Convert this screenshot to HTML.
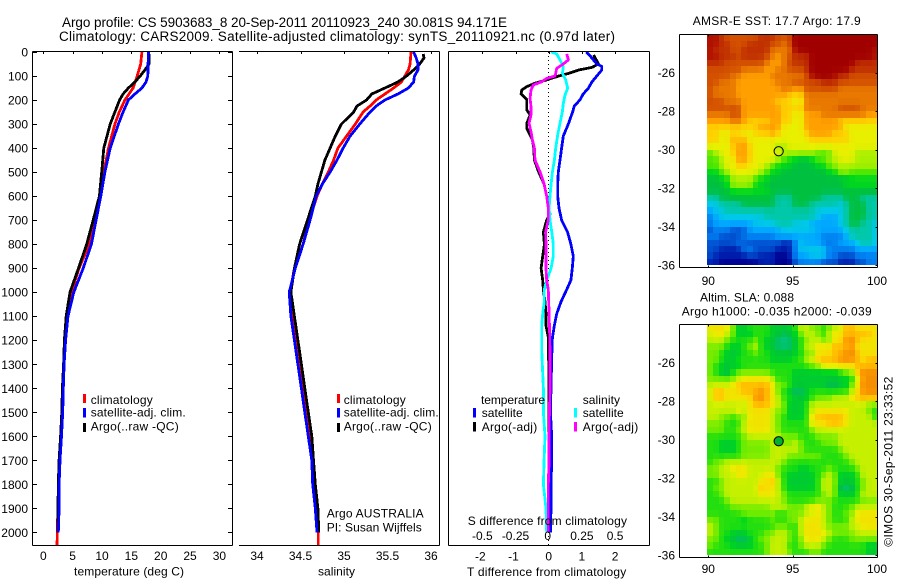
<!DOCTYPE html>
<html lang="en">
<head>
<meta charset="utf-8">
<title>Argo profile 5903683</title>
<style>
html,body{margin:0;padding:0;background:#fff;}
svg{display:block;}
text{font-family:"Liberation Sans",Arial,sans-serif;font-size:12px;fill:#000;}
.title{font-size:13.5px;}
.leg{font-size:12px;}
</style>
</head>
<body>
<svg id="chart" xmlns="http://www.w3.org/2000/svg" width="900" height="580" viewBox="0 0 900 580">
<rect x="0" y="0" width="900" height="580" fill="#fff"/>
<g id="marks"></g>
<g>
<text class="title" x="62" y="27" textLength="445" lengthAdjust="spacing">Argo profile: CS 5903683_8 20-Sep-2011 20110923_240 30.081S 94.171E</text>
<text class="title" x="59" y="41" textLength="556" lengthAdjust="spacing">Climatology: CARS2009. Satellite-adjusted climatology: synTS_20110921.nc (0.97d later)</text>
<text x="692.7" y="25" textLength="168" lengthAdjust="spacing">AMSR-E SST: 17.7  Argo: 17.9</text>
<text x="700" y="301.7" textLength="94" lengthAdjust="spacing">Altim. SLA: 0.088</text>
<text x="681.7" y="315.7" textLength="190" lengthAdjust="spacing">Argo h1000: -0.035 h2000: -0.039</text>
<text transform="translate(892.7,546.7) rotate(-90)" textLength="170" lengthAdjust="spacing">©IMOS 30-Sep-2011 23:33:52</text>
</g>
<g>
<text x="74" y="575.7" textLength="110" lengthAdjust="spacing">temperature (deg C)</text>
<text x="318" y="575.7" textLength="37" lengthAdjust="spacing">salinity</text>
<text x="467" y="576" textLength="159.3" lengthAdjust="spacing">T difference from climatology</text>
<text x="467.7" y="525" textLength="159.3" lengthAdjust="spacing">S difference from climatology</text>
</g>
<g>
<rect x="83" y="394" width="3" height="9" fill="#f00"/>
<rect x="83" y="408" width="3" height="9.5" fill="#00f"/>
<rect x="83" y="423" width="3" height="9" fill="#000"/>
<text class="leg" x="90.7" y="404" textLength="62" lengthAdjust="spacing">climatology</text>
<text class="leg" x="90.7" y="416.7" textLength="95" lengthAdjust="spacing">satellite-adj. clim.</text>
<text class="leg" x="90.7" y="430.7" textLength="88" lengthAdjust="spacing">Argo(..raw -QC)</text>
</g>
<g>
<rect x="337" y="394" width="3" height="9" fill="#f00"/>
<rect x="337" y="408" width="3" height="9.5" fill="#00f"/>
<rect x="337" y="423" width="3" height="9" fill="#000"/>
<text class="leg" x="343.7" y="404" textLength="62" lengthAdjust="spacing">climatology</text>
<text class="leg" x="343.7" y="416.7" textLength="95" lengthAdjust="spacing">satellite-adj. clim.</text>
<text class="leg" x="343.7" y="430.7" textLength="88" lengthAdjust="spacing">Argo(..raw -QC)</text>
<text class="leg" x="326.7" y="517.7" textLength="97" lengthAdjust="spacing">Argo AUSTRALIA</text>
<text class="leg" x="326.7" y="531.7" textLength="95" lengthAdjust="spacing">PI: Susan Wijffels</text>
</g>
<g>
<text class="leg" x="481" y="404" textLength="64" lengthAdjust="spacing">temperature</text>
<text class="leg" x="582.7" y="404" textLength="37.3" lengthAdjust="spacing">salinity</text>
<rect x="473" y="408" width="3" height="9.5" fill="#00f"/>
<rect x="473" y="422" width="3" height="9.5" fill="#000"/>
<rect x="574" y="408" width="3" height="9.5" fill="#0ff"/>
<rect x="574" y="422" width="3" height="9.5" fill="#f0f"/>
<text class="leg" x="481.7" y="417" textLength="41" lengthAdjust="spacing">satellite</text>
<text class="leg" x="481.7" y="431" textLength="55.5" lengthAdjust="spacing">Argo(-adj)</text>
<text class="leg" x="582.7" y="417" textLength="41" lengthAdjust="spacing">satellite</text>
<text class="leg" x="582.7" y="431" textLength="55.5" lengthAdjust="spacing">Argo(-adj)</text>
</g>
</svg>
<script>
/* ---------- axis tick labels ---------- */
var depthTicks = [0,100,200,300,400,500,600,700,800,900,1000,1100,1200,1300,1400,1500,1600,1700,1800,1900,2000];
var tempTicks = [0,5,10,15,20,25,30];
var salTicks = [34,34.5,35,35.5,36];
var salTickLabels = ['34','34.5','35','35.5','36'];
var tDiffTicks = [-2,-1,0,1,2];
var sDiffTicks = [-0.5,-0.25,0,0.25,0.5];
var sDiffTickLabels = ['-0.5','-0.25','0','0.25','0.5'];
var lonTicks = [90,95,100];
var latTicks = [-26,-28,-30,-32,-34,-36];
var profileLon = 94.171;
var profileLat = -30.081;

/* ---------- temperature panel (deg C) ---------- */
var tempClimDepth = [0,50,100,150,200,250,300,400,500,600,700,800,900,1000,1100,1200,1300,1400,1500,1600,1700,1800,1900,1950,2053];
var tempClim = [16.8,16.6,16.0,15.3,13.9,12.95,12.2,11.1,10.3,9.66,8.8,7.8,6.1,4.8,4.0,3.7,3.5,3.4,3.3,3.1,2.85,2.7,2.65,2.4,2.35];
var tempSatDepth = [0,100,125,150,175,200,250,300,400,500,600,700,800,900,1000,1100,1200,1300,1400,1500,1600,1700,1800,1900,2000];
var tempSat = [17.9,17.8,17.5,16.8,15.6,14.5,13.6,12.8,11.4,10.5,9.8,9.0,8.2,6.8,5.2,4.2,3.8,3.55,3.4,3.3,3.1,2.85,2.7,2.7,2.55];
var tempArgoDepth = [8,50,75,100,125,150,175,200,250,300,400,500,600,700,800,900,1000,1100,1200,1300,1400,1500,1600,1700,1800,1900,2000];
var tempArgo = [18.06,18.0,17.3,16.5,15.6,14.5,13.6,13.0,12.2,11.4,10.3,9.95,9.55,8.5,7.4,6.0,4.55,3.9,3.6,3.45,3.25,3.15,2.95,2.7,2.55,2.5,2.45];

/* ---------- salinity panel ---------- */
var salClimDepth = [0,50,75,100,125,150,175,200,225,250,300,350,400,450,500,550,600,700,800,900,1000,1100,1200,1300,1400,1500,1600,1700,1800,1900,2053];
var salClim = [35.77,35.76,35.74,35.7,35.66,35.57,35.47,35.37,35.3,35.22,35.13,35.03,34.93,34.88,34.82,34.75,34.69,34.6,34.53,34.43,34.38,34.41,34.45,34.49,34.53,34.57,34.61,34.64,34.66,34.7,34.705];
var salSatDepth = [0,25,50,75,100,125,150,175,200,225,250,300,350,400,450,500,550,600,700,800,900,1000,1100,1200,1300,1400,1500,1600,1700,1800,1900,2000];
var salSat = [35.8,35.83,35.85,35.85,35.81,35.8,35.74,35.62,35.47,35.37,35.3,35.18,35.07,34.99,34.92,34.84,34.75,34.68,34.61,34.53,34.44,34.37,34.39,34.43,34.47,34.51,34.55,34.59,34.63,34.64,34.67,34.69];
var salArgoDepth = [8,25,50,75,100,125,150,175,200,225,250,300,350,400,450,500,550,600,700,800,900,1000,1100,1200,1300,1400,1500,1600,1700,1800,1900,2000];
var salArgo = [35.91,35.92,35.87,35.8,35.72,35.62,35.47,35.32,35.26,35.15,35.11,34.97,34.9,34.84,34.78,34.74,34.7,34.67,34.58,34.49,34.43,34.39,34.43,34.47,34.51,34.55,34.59,34.63,34.65,34.67,34.7,34.71];

/* ---------- difference panel ---------- */
var dTSatDepth = [0,25,50,60,75,100,125,150,175,200,225,250,300,350,400,450,500,550,600,650,700,750,800,850,900,950,990,1040,1090,1140,1190,1270,1400,1500,1600,1700,1800,1900,2000];
var dTSat = [1.14,1.3,1.45,1.6,1.6,1.45,1.3,1.2,1.04,0.94,0.77,0.72,0.59,0.44,0.39,0.34,0.29,0.27,0.27,0.31,0.39,0.57,0.67,0.74,0.71,0.67,0.54,0.37,0.24,0.17,0.11,0.09,0.07,0.05,0.09,0.09,0.07,0.07,0.05];
var dTArgoDepth = [12,25,50,64,75,89,100,116,130,144,158,175,197,241,262,297,318,366,400,450,500,550,600,650,675,700,750,800,850,900,950,990,1040,1090,1140,1190,1300,1500,1800,2000];
var dTArgo = [1.35,1.4,1.5,1.3,0.9,0.6,0.3,-0.06,-0.41,-0.66,-0.81,-0.83,-0.66,-0.66,-0.56,-0.66,-0.66,-0.49,-0.45,-0.43,-0.3,-0.14,-0.06,-0.01,0.04,-0.06,-0.16,-0.13,-0.18,-0.23,-0.18,-0.16,-0.11,-0.08,-0.08,-0.01,0.0,0.0,0.0,0.0];
var dSSatDepth = [0,8,33,61,89,116,151,179,214,248,297,345,400,450,500,550,600,650,700,750,800,850,900,950,990,1040,1090,1140,1240,1300,1400,1500,1600,1700,1800,1900,2000];
var dSSat = [0.018,0.06,0.085,0.11,0.103,0.128,0.143,0.123,0.11,0.103,0.085,0.068,0.053,0.043,0.028,0.018,0.01,0.003,0.01,0.023,0.035,0.035,0.018,-0.015,-0.033,-0.033,-0.045,-0.053,-0.053,-0.048,-0.04,-0.04,-0.028,-0.035,-0.04,-0.02,-0.015];
var dSArgoDepth = [8,33,50,68,89,100,110,124,137,158,193,228,262,297,332,366,400,450,500,550,600,650,700,750,800,850,900,950,990,1090,1190,1300,1400,1500,1600,1700,1800,1900,2000];
var dSArgo = [0.136,0.148,0.11,0.06,0.053,0.048,-0.015,-0.053,-0.115,-0.133,-0.14,-0.133,-0.133,-0.148,-0.133,-0.123,-0.108,-0.103,-0.065,-0.035,-0.015,-0.003,-0.003,-0.023,-0.02,-0.02,-0.02,-0.015,-0.003,0.003,0.008,0.01,0.01,0.005,0.003,0.003,-0.003,-0.003,-0.003];

/* ---------- SST map levels, north to south, 1/3 degree cells ---------- */
var sstLevels = [
[17,17,16,15,15,15,15,15,15,16,16,16,15,15,15,18,18,18,18,18,18,18,18,18,18,18,18,18,18,18],
[17,17,16,16,15,15,15,16,16,16,16,15,15,14,15,18,18,18,18,18,18,18,18,18,18,18,18,18,18,18],
[17,16,16,16,15,15,16,16,16,16,16,14,14,14,14,17,18,18,18,18,18,18,18,18,18,18,18,18,18,17],
[17,17,16,16,16,15,16,16,16,16,15,14,13,14,15,16,16,16,18,18,18,18,18,18,18,18,18,18,18,17],
[16,16,16,15,15,15,15,15,15,15,14,13,13,14,15,16,16,16,18,18,18,18,18,18,18,18,16,16,16,16],
[15,15,15,15,15,15,14,14,14,14,13,13,14,14,15,15,15,16,18,18,18,18,18,18,18,16,16,16,16,16],
[15,15,15,15,14,14,13,13,13,13,13,14,14,14,14,14,14,15,17,18,18,18,17,16,16,15,15,15,15,15],
[15,15,14,14,14,13,13,13,13,13,13,13,14,14,14,15,15,15,15,15,16,16,16,15,15,15,15,15,15,15],
[15,14,14,14,14,13,13,13,13,13,13,13,13,14,14,13,13,15,15,15,15,15,15,14,14,14,14,14,14,14],
[15,14,14,14,14,13,13,13,13,13,13,13,13,13,12,12,12,14,14,14,14,14,14,14,14,14,14,14,14,14],
[15,15,15,14,14,14,13,13,13,13,13,13,12,12,12,11,11,14,14,14,14,14,14,14,14,14,14,14,14,14],
[15,15,15,15,15,15,13,13,13,13,13,13,13,12,12,12,12,14,14,14,14,14,14,15,15,15,15,14,14,14],
[14,14,14,14,15,15,13,13,13,13,13,13,13,12,12,11,11,13,13,13,14,14,14,14,14,14,14,14,13,13],
[13,13,13,13,14,14,13,12,12,12,12,13,13,12,12,11,11,13,13,13,13,13,13,12,12,12,12,12,12,12],
[12,12,12,12,12,12,12,12,12,13,13,13,13,11,11,11,11,13,13,13,13,13,13,13,11,11,11,11,11,11],
[12,12,11,11,12,12,11,11,12,12,12,13,12,11,11,11,11,12,13,13,13,13,12,12,12,11,11,11,11,11],
[12,12,11,11,13,12,13,11,11,11,11,11,11,11,11,11,11,11,12,12,12,12,12,12,12,11,11,11,11,11],
[11,11,11,11,12,13,13,12,11,11,11,11,10,10,11,11,11,11,11,11,11,11,11,11,11,11,11,11,11,11],
[9,10,11,11,12,13,13,12,11,11,11,11,11,10,10,10,10,10,10,9,9,9,11,11,11,11,10,10,10,10],
[9,9,10,11,11,13,13,12,11,11,11,11,10,9,8,8,7,7,8,9,9,10,10,11,11,11,10,10,10,10],
[9,9,10,11,11,12,12,11,11,11,10,9,8,8,8,7,7,7,7,8,8,9,10,10,10,10,10,10,10,10],
[8,8,9,10,11,11,11,11,11,10,9,8,8,7,7,7,7,7,7,7,7,8,8,10,10,9,9,9,9,9],
[7,7,8,8,10,10,10,10,9,8,8,7,7,7,7,7,7,7,7,7,7,7,7,7,7,8,8,8,8,8],
[7,7,7,8,10,10,10,10,8,8,7,7,7,7,7,7,7,7,7,7,7,7,7,7,8,8,8,8,8,8],
[7,7,7,7,8,8,8,8,8,8,8,7,7,7,7,7,7,7,7,7,7,7,7,7,7,7,7,7,7,7],
[6,6,7,7,7,7,7,7,7,7,7,7,6,6,6,7,7,7,7,7,6,6,6,6,7,7,7,6,6,6],
[5,5,6,6,6,6,7,7,7,7,7,7,6,6,6,7,7,7,6,6,6,6,6,5,6,7,7,7,6,6],
[4,5,5,6,6,6,6,6,6,6,6,6,6,6,6,6,6,6,6,5,5,5,5,5,6,7,7,7,6,6],
[3,4,5,5,5,5,5,5,5,5,6,6,6,6,6,6,6,6,6,5,4,4,4,5,6,7,7,7,6,6],
[3,4,4,4,4,4,4,4,5,5,5,5,6,6,6,5,5,5,4,4,4,4,4,5,6,7,7,6,6,5],
[2,3,3,3,2,2,2,4,4,4,4,4,4,5,5,5,5,5,5,4,4,4,4,4,5,6,6,6,6,5],
[3,3,2,2,2,2,3,3,3,3,3,3,4,4,4,4,4,4,4,4,3,3,3,3,4,6,6,6,6,5],
[2,2,2,2,2,3,2,2,2,2,2,2,2,1,1,3,5,4,4,4,3,3,3,4,4,4,5,6,6,5],
[2,2,1,1,1,1,3,3,2,2,2,2,1,1,1,3,5,5,5,5,5,3,3,3,3,3,4,4,4,4],
[2,1,1,1,1,1,1,2,2,1,1,1,0,0,1,3,4,4,5,5,5,3,3,2,2,2,3,3,3,3],
[1,1,0,0,0,0,0,0,0,1,1,1,0,0,0,2,3,3,3,3,2,2,2,1,1,1,2,2,3,3]
];

/* ---------- SLA map levels, north to south, 1/3 degree cells ---------- */
var slaLevels = [
[11,11,11,11,9,7,7,8,8,8,8,7,7,7,7,8,10,10,9,9,8,9,10,10,12,12,11,11,11,11],
[10,11,11,10,9,7,7,7,8,8,8,7,7,6,7,7,9,10,10,9,8,10,11,11,12,12,12,12,12,11],
[10,10,10,9,8,8,8,8,9,8,7,7,6,6,6,7,8,9,10,10,9,9,11,11,13,13,12,11,11,11],
[9,9,9,8,7,7,8,9,10,8,7,7,6,6,6,7,8,10,10,11,11,11,12,12,12,13,11,11,11,11],
[9,9,8,7,7,7,8,8,9,8,8,7,7,7,7,7,8,9,9,11,11,11,12,12,13,13,12,11,11,11],
[9,9,8,7,7,8,8,8,8,8,8,7,7,7,7,8,8,10,10,12,12,12,12,13,13,13,12,11,12,12],
[9,8,7,7,7,7,8,8,8,8,8,8,8,8,8,8,8,8,9,9,11,11,11,11,11,11,12,12,12,12],
[9,8,7,6,8,9,9,9,9,9,9,8,8,8,8,7,7,7,7,7,7,7,7,8,9,9,12,13,13,13],
[9,9,9,9,9,10,11,11,11,11,11,10,8,8,8,7,7,7,7,7,7,7,7,7,7,8,10,13,13,13],
[10,10,10,10,11,12,12,12,12,12,12,11,9,9,8,7,7,7,7,7,7,6,6,7,7,9,11,13,13,13],
[10,12,12,11,11,11,12,12,12,13,12,11,9,8,7,6,6,7,8,8,8,8,8,8,8,10,11,13,13,13],
[10,12,12,11,11,11,11,11,13,13,12,11,10,8,8,7,7,7,8,9,9,9,10,10,10,11,12,12,12,12],
[10,10,10,10,10,10,10,11,12,12,12,11,10,9,7,7,7,8,10,10,10,10,10,10,10,10,10,10,9,9],
[10,10,10,10,10,11,10,11,11,11,11,10,9,9,7,7,7,8,10,11,11,11,11,11,11,10,10,10,9,8],
[10,10,9,9,8,9,9,11,11,11,11,10,9,8,7,7,7,8,11,12,12,12,12,12,11,10,10,10,10,8],
[9,9,9,8,8,8,10,11,11,11,11,10,9,8,8,8,8,8,11,11,11,12,12,12,11,10,10,10,10,10],
[9,9,9,8,8,9,10,11,11,11,11,10,9,8,8,8,8,8,9,10,10,10,10,10,10,10,10,10,10,10],
[8,8,8,8,8,8,9,10,10,10,10,10,10,9,9,9,8,8,8,9,9,9,9,10,10,10,10,10,10,10],
[8,8,7,7,7,8,9,9,9,9,9,10,10,9,9,10,9,8,8,8,9,9,9,10,10,10,10,10,10,10],
[8,8,7,7,7,8,9,9,9,9,9,10,10,10,10,10,9,8,8,8,8,8,8,9,10,10,10,10,10,10],
[8,8,8,8,8,8,9,9,9,9,9,10,10,10,9,9,9,9,9,9,8,8,8,8,9,10,10,10,10,10],
[8,9,9,10,10,10,10,10,10,10,10,10,10,9,8,8,8,8,8,8,8,8,8,8,8,9,10,10,10,10],
[9,9,10,10,11,11,11,10,10,10,10,10,9,8,8,8,7,7,8,8,8,9,8,8,8,8,9,10,10,10],
[9,9,10,10,10,11,11,10,10,10,11,11,9,8,7,7,7,7,7,8,9,10,9,7,7,7,8,10,10,10],
[8,8,9,10,10,10,10,10,10,11,11,12,10,8,7,7,7,7,7,8,10,10,9,7,7,7,8,9,10,10],
[8,9,9,10,10,10,10,10,10,12,11,11,10,8,7,7,7,7,7,8,10,10,9,6,6,6,8,9,10,10],
[8,8,9,10,10,10,10,10,10,11,11,11,10,9,8,8,8,8,8,8,9,10,9,7,7,7,8,10,10,10],
[8,8,8,9,10,10,10,10,10,10,10,10,10,9,8,8,8,8,8,9,9,9,8,8,8,8,8,9,9,9],
[8,8,8,8,9,9,9,9,9,9,9,10,10,10,9,9,9,10,11,11,10,9,8,8,8,9,10,10,10,10],
[8,8,8,8,8,8,9,9,9,9,9,9,8,8,9,9,9,10,10,11,10,9,8,8,9,9,11,11,11,11],
[9,9,8,8,8,8,7,8,8,8,8,9,8,8,9,9,10,11,11,11,10,9,8,8,8,10,11,11,11,11],
[10,9,8,8,8,8,8,8,8,8,8,8,9,9,8,8,10,11,11,11,10,9,9,9,9,10,10,11,11,11],
[10,9,8,8,7,7,7,8,8,8,9,9,10,10,9,8,10,11,11,11,11,10,9,9,9,9,10,10,10,10],
[9,9,8,7,7,6,6,7,8,9,9,10,10,10,9,8,9,11,11,11,10,9,8,8,8,9,9,9,9,9],
[9,8,8,8,7,7,7,7,8,8,9,10,10,10,8,8,9,10,10,10,9,8,8,8,8,8,8,8,7,7],
[8,8,8,8,8,8,8,8,8,8,9,10,10,10,9,8,8,8,9,9,8,8,8,8,8,8,8,8,7,7]
];

var palette = [[0,0,144],[0,32,176],[0,80,208],[0,128,240],[0,168,255],[0,200,232],[0,200,168],[0,192,64],[0,216,28],[80,232,0],[168,240,0],[232,240,0],[255,208,0],[255,160,0],[232,120,0],[210,80,0],[192,48,0],[176,16,0],[160,0,0]];

var svgNS = 'http://www.w3.org/2000/svg';
var root = document.getElementById('marks');

function make(tag, attrs, parent) {
  var el = document.createElementNS(svgNS, tag);
  for (var k in attrs) { el.setAttribute(k, attrs[k]); }
  (parent || root).appendChild(el);
  return el;
}

/* axis functions */
function yDepth(d) { return 52 + 0.2402 * d; }
function xTemp(t) { return 43.3 + 5.87 * t; }
function xSal(s) { return 257 + 87 * (s - 34); }
function xDT(t) { return 548.7 + 33.2 * t; }
function xDS(s) { return 548.7 + 132.8 * s; }
function xLon(lon) { return 708.3 + 16.87 * (lon - 90); }
function yLatA(lat) { return 72.7 + 19.25 * (-26 - lat); }
function yLatB(lat) { return 362.7 + 19.25 * (-26 - lat); }

function levelColor(v) {
  var lo = Math.max(0, Math.min(palette.length - 1, Math.floor(v)));
  var hi = Math.min(palette.length - 1, lo + 1);
  var f = Math.max(0, Math.min(1, v - lo));
  var a = palette[lo], b = palette[hi];
  return 'rgb(' + Math.round(a[0] + (b[0] - a[0]) * f) + ',' + Math.round(a[1] + (b[1] - a[1]) * f) + ',' + Math.round(a[2] + (b[2] - a[2]) * f) + ')';
}

/* display shading: each cell blended lightly with its four neighbours */
function shaded(levels, r, c) {
  var rows = levels.length, cols = levels[r].length;
  var up = levels[Math.max(0, r - 1)][c];
  var down = levels[Math.min(rows - 1, r + 1)][c];
  var left = levels[r][Math.max(0, c - 1)];
  var right = levels[r][Math.min(cols - 1, c + 1)];
  return (4 * levels[r][c] + up + down + left + right) / 8;
}

function drawLine(depths, values, xFn, color, name, width) {
  var pts = [];
  for (var i = 0; i < values.length; i++) {
    pts.push(xFn(values[i]).toFixed(1) + ',' + yDepth(depths[i]).toFixed(1));
  }
  var el = make('polyline', {points: pts.join(' '), fill: 'none', stroke: color, 'stroke-width': width || 2.8, 'shape-rendering': 'crispEdges', 'stroke-linejoin': 'round'});
  
  
}

function seg(x1, y1, x2, y2, name) {
  var el = make('line', {x1: x1, y1: y1, x2: x2, y2: y2, stroke: '#000', 'stroke-width': 1, 'shape-rendering': 'crispEdges'});
  
  
  return el;
}

function label(x, y, str, anchor, name) {
  var el = make('text', {x: x, y: y, 'text-anchor': anchor});
  el.textContent = str;
  
  
}

function drawMap(levels, yFn, name, tone) {
  var left = 707.3, cw = 169.9 / 30;
  var top = yFn(-24), ch = 19.25 * 12 / 36;
  for (var r = 0; r < levels.length; r++) {
    for (var c = 0; c < levels[r].length; c++) {
      var x0 = Math.round(left + c * cw), x1 = Math.round(left + (c + 1) * cw);
      var y0 = Math.round(top + r * ch), y1 = Math.round(top + (r + 1) * ch);
      var cell = make('rect', {x: x0, y: y0, width: x1 - x0, height: y1 - y0, fill: levelColor(shaded(levels, r, c) + tone), 'shape-rendering': 'crispEdges'});
      
      
    }
  }
}

function drawMapAxes(yFn, frameTop, frameBottom, labelY, prefix) {
  seg(679.5, frameTop, 877.5, frameTop, prefix + '-top-axis');
  seg(679.5, frameBottom, 877.5, frameBottom, prefix + '-bottom-axis');
  seg(679.5, frameTop, 679.5, frameBottom, prefix + '-left-axis');
  seg(877.5, frameTop, 877.5, frameBottom, prefix + '-right-axis');
  lonTicks.forEach(function (lon) {
    var x = Math.round(xLon(lon)) + 0.5;
    if (lon === 100) { x = 877.5; }
    seg(x, frameTop, x, frameTop + 2, prefix + '-lon-tick');
    seg(x, frameBottom - 2, x, frameBottom, prefix + '-lon-tick');
    label(lon === 100 ? 877 : xLon(lon), labelY, String(lon), 'middle', prefix + '-lon-label');
  });
  latTicks.forEach(function (lat) {
    var y = Math.round(yFn(lat)) + 0.5;
    seg(875.5, y, 877.5, y, prefix + '-lat-tick');
    label(675, yFn(lat) + 4.5, String(lat), 'end', prefix + '-lat-label');
  });
}

/* profile series */
drawLine(tempClimDepth, tempClim, xTemp, '#f00', 'temperature-climatology-line');
drawLine(tempArgoDepth, tempArgo, xTemp, '#000', 'temperature-argo-line');
drawLine(tempSatDepth, tempSat, xTemp, '#00f', 'temperature-satellite-line');

drawLine(salClimDepth, salClim, xSal, '#f00', 'salinity-climatology-line');
drawLine(salArgoDepth, salArgo, xSal, '#000', 'salinity-argo-line');
drawLine(salSatDepth, salSat, xSal, '#00f', 'salinity-satellite-line');

var zeroLine = make('line', {x1: 548.5, y1: 52, x2: 548.5, y2: 545, stroke: '#000', 'stroke-width': 1, 'stroke-dasharray': '1 3', 'shape-rendering': 'crispEdges'});


drawLine(dTArgoDepth, dTArgo, xDT, '#000', 'temperature-argo-difference-line');
drawLine(dTSatDepth, dTSat, xDT, '#00f', 'temperature-satellite-difference-line');
drawLine(dSSatDepth, dSSat, xDS, '#0ff', 'salinity-satellite-difference-line');
drawLine(dSArgoDepth, dSArgo, xDS, '#f0f', 'salinity-argo-difference-line');

/* panel frames */
seg(32.5, 51.5, 232.5, 51.5, 'temperature-top-axis');
seg(32.5, 545.5, 232.5, 545.5, 'temperature-bottom-axis');
seg(32.5, 51.5, 32.5, 545.5, 'temperature-left-axis');
seg(232.5, 51.5, 232.5, 545.5, 'temperature-right-axis');
seg(239, 51.5, 439.5, 51.5, 'salinity-top-axis');
seg(239, 545.5, 439.5, 545.5, 'salinity-bottom-axis');
seg(439.5, 51.5, 439.5, 545.5, 'salinity-right-axis');
seg(448.5, 51.5, 649.5, 51.5, 'difference-top-axis');
seg(448.5, 545.5, 649.5, 545.5, 'difference-bottom-axis');
seg(448.5, 51.5, 448.5, 545.5, 'difference-left-axis');
seg(649.5, 51.5, 649.5, 545.5, 'difference-right-axis');

depthTicks.forEach(function (d) {
  var y = Math.round(yDepth(d)) + 0.5;
  seg(32.5, y, 37, y, 'depth-tick-left');
  seg(228, y, 232.5, y, 'depth-tick-right');
  label(28, yDepth(d) + 4.5, String(d), 'end', 'depth-tick-label');
});
tempTicks.forEach(function (t) {
  var x = Math.round(xTemp(t)) + 0.5;
  seg(x, 51.5, x, 54, 'temperature-tick');
  label(xTemp(t), 560, String(t), 'middle', 'temperature-tick-label');
});
salTicks.forEach(function (s, i) {
  var x = Math.round(xSal(s)) + 0.5;
  seg(x, 51.5, x, 54, 'salinity-tick');
  label(xSal(s), 560, salTickLabels[i], 'middle', 'salinity-tick-label');
});
tDiffTicks.forEach(function (t) {
  var x = Math.round(xDT(t)) + 0.5;
  seg(x, 51.5, x, 54, 'temperature-difference-tick');
  label(xDT(t) - (t < 0 ? 2 : 0), 560.7, String(t), 'middle', 'temperature-difference-tick-label');
});
sDiffTicks.forEach(function (s, i) {
  label(xDS(s) + (s === 0 ? -1 : 0), 540, sDiffTickLabels[i], 'middle', 'salinity-difference-tick-label');
});

/* maps */
drawMap(sstLevels, yLatA, 'sst-map-cell', 0);
drawMap(slaLevels, yLatB, 'sla-map-cell', 0.45);
drawMapAxes(yLatA, 34.5, 267.5, 285, 'sst-map');
drawMapAxes(yLatB, 324.5, 557.5, 573, 'sla-map');

var markerA = make('circle', {cx: xLon(profileLon), cy: yLatA(profileLat), r: 4.6, fill: 'none', stroke: '#000', 'stroke-width': 1});


var markerB = make('circle', {cx: xLon(profileLon), cy: yLatB(profileLat), r: 4.6, fill: '#00b030', stroke: '#000', 'stroke-width': 1});


</script>
</body>
</html>
